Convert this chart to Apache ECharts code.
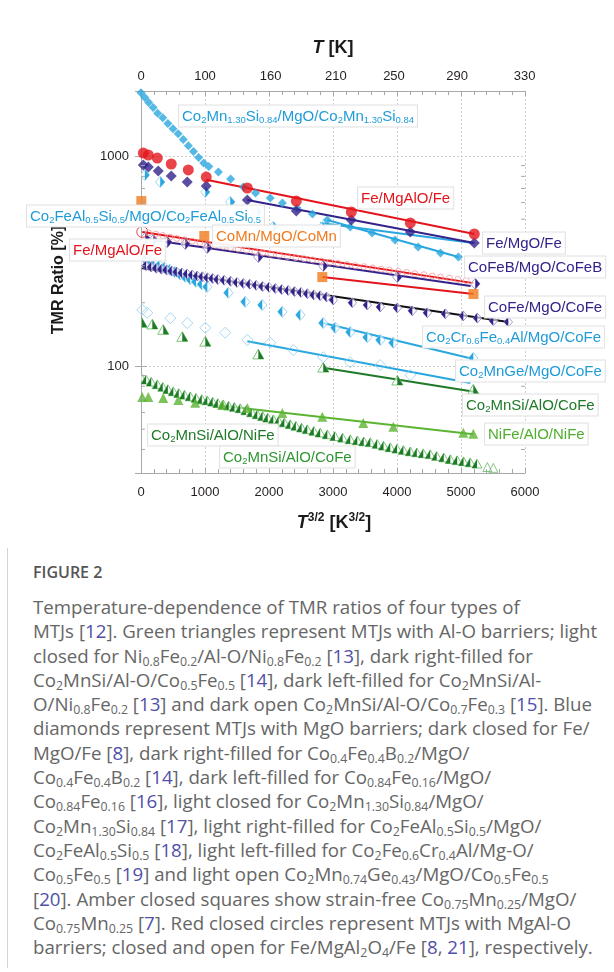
<!DOCTYPE html>
<html>
<head>
<meta charset="utf-8">
<script src="https://cdn.jsdelivr.net/npm/echarts@6/dist/echarts.min.js"></script>
<style>
  html, body { margin: 0; padding: 0; background: #fff; }
  body { width: 614px; height: 972px; position: relative; overflow: hidden; }
  #chart { position: absolute; left: 0; top: 0; width: 614px; height: 550px; }
  .edge { position: absolute; left: 7px; top: 548px; height: 420px; border-left: 1px solid #d4d4d4; }
  #caption { position: absolute; left: 33px; top: 560px; font-family: "Open Sans", "Noto Sans", sans-serif; color: #666; white-space: nowrap; }
  #caption .fig { font-size: 16px; font-weight: 600; line-height: 24px; color: #555; margin-bottom: 11px; }
  #caption .body { font-size: 18.7px; line-height: 24.3px; }
  #caption sub { font-size: 0.66em; vertical-align: -0.25em; line-height: 0; }
  #caption .ref { color: #5050a8; }
</style>
</head>
<body>
<div id="chart"></div>
<div class="edge"></div>
<div id="caption">
  <div class="fig">FIGURE 2</div>
  <div class="body">
Temperature-dependence of TMR ratios of four types of<br>
MTJs [<span class="ref">12</span>]. Green triangles represent MTJs with Al-O barriers; light<br>
closed for Ni<sub>0.8</sub>Fe<sub>0.2</sub>/Al-O/Ni<sub>0.8</sub>Fe<sub>0.2</sub> [<span class="ref">13</span>], dark right-filled for<br>
Co<sub>2</sub>MnSi/Al-O/Co<sub>0.5</sub>Fe<sub>0.5</sub> [<span class="ref">14</span>], dark left-filled for Co<sub>2</sub>MnSi/Al-<br>
O/Ni<sub>0.8</sub>Fe<sub>0.2</sub> [<span class="ref">13</span>] and dark open Co<sub>2</sub>MnSi/Al-O/Co<sub>0.7</sub>Fe<sub>0.3</sub> [<span class="ref">15</span>]. Blue<br>
diamonds represent MTJs with MgO barriers; dark closed for Fe/<br>
MgO/Fe [<span class="ref">8</span>], dark right-filled for Co<sub>0.4</sub>Fe<sub>0.4</sub>B<sub>0.2</sub>/MgO/<br>
Co<sub>0.4</sub>Fe<sub>0.4</sub>B<sub>0.2</sub> [<span class="ref">14</span>], dark left-filled for Co<sub>0.84</sub>Fe<sub>0.16</sub>/MgO/<br>
Co<sub>0.84</sub>Fe<sub>0.16</sub> [<span class="ref">16</span>], light closed for Co<sub>2</sub>Mn<sub>1.30</sub>Si<sub>0.84</sub>/MgO/<br>
Co<sub>2</sub>Mn<sub>1.30</sub>Si<sub>0.84</sub> [<span class="ref">17</span>], light right-filled for Co<sub>2</sub>FeAl<sub>0.5</sub>Si<sub>0.5</sub>/MgO/<br>
Co<sub>2</sub>FeAl<sub>0.5</sub>Si<sub>0.5</sub> [<span class="ref">18</span>], light left-filled for Co<sub>2</sub>Fe<sub>0.6</sub>Cr<sub>0.4</sub>Al/Mg-O/<br>
Co<sub>0.5</sub>Fe<sub>0.5</sub> [<span class="ref">19</span>] and light open Co<sub>2</sub>Mn<sub>0.74</sub>Ge<sub>0.43</sub>/MgO/Co<sub>0.5</sub>Fe<sub>0.5</sub><br>
[<span class="ref">20</span>]. Amber closed squares show strain-free Co<sub>0.75</sub>Mn<sub>0.25</sub>/MgO/<br>
Co<sub>0.75</sub>Mn<sub>0.25</sub> [<span class="ref">7</span>]. Red closed circles represent MTJs with MgAl-O<br>
barriers; closed and open for Fe/MgAl<sub>2</sub>O<sub>4</sub>/Fe [<span class="ref">8</span>, <span class="ref">21</span>], respectively.
  </div>
</div>

<script>
// x = T^(3/2) [K^(3/2)], y = TMR ratio [%]
const feMgAlOClosed = [[36,1033],[114,1011],[255,978],[473,916],[739,858],[1020,794],[1661,704],[2427,610],[3286,541],[4208,480],[5208,425]];
const feMgAlOClosedFit = [[1020,771],[5208,425]];
const feMgAlOOpen = [[20,435],[120,430],[230,424],[340,418],[450,411],[560,405],[680,399],[800,393],[920,387],[1040,381],[1160,376],[1280,371],[1400,366],[1520,361],[1650,356],[1780,351],[1900,346],[2030,341],[2160,337],[2290,332],[2420,328],[2550,324],[2680,320],[2820,316],[2950,312],[3080,308],[3220,304],[3350,300],[3480,297],[3620,293],[3750,289],[3880,286],[4020,282],[4150,279],[4280,275],[4420,272],[4550,268],[4680,265],[4820,262],[4950,258],[5080,255]];
const feMgAlOOpenFit = [[20,435],[5195,248]];

const feMgOFe = [[36,906],[114,887],[270,849],[473,803],[723,752],[1020,720],[1661,617],[2427,547],[3286,496],[4208,435],[5208,385]];
const feMgOFeFit = [[1661,617],[5208,385]];
const coFeB = [[67,407],[192,398],[411,389],[692,381],[1036,365],[1833,330],[2848,299],[4005,265],[5223,246]];
const coFeBFit = [[67,402],[5150,240]];
const coFe = [[0,305],[80,300],[160,296],[240,292],[320,289],[400,286],[480,283],[560,280],[640,277],[720,274],[800,271],[880,268],[960,266],[1040,263],[1120,261],[1200,258],[1300,256],[1400,253],[1500,250],[1600,247],[1700,245],[1800,242],[1900,239],[2000,237],[2100,234],[2200,231],[2300,229],[2400,226],[2500,224],[2600,221],[2700,218],[2800,216],[2900,213],[3005,206],[3302,200],[3536,195],[3739,191],[4005,189],[4239,183],[4473,179],[4755,177],[5036,173],[5255,169],[5505,164],[5739,162]];
const coFeFit = [[0,293],[5739,162]];

const co2MnSi = [[0,2000],[60,1900],[120,1800],[190,1700],[260,1600],[340,1520],[420,1430],[500,1350],[580,1275],[660,1200],[740,1120],[820,1050],[900,985],[980,925],[1060,890],[1210,840],[1400,777],[1600,711],[1790,667],[2020,631],[2210,597],[2440,565],[2680,529],[2910,496],[3270,459],[3610,430],[3970,398],[4330,369],[4680,345],[4960,330]];
const co2MnSiFit = [[2910,496],[4960,330]];
const co2FeAlSi = [[60,812],[300,752],[1005,674],[1395,604],[1817,541],[2067,459],[2833,459]];
const co2FeAlSiFit = [[2800,480],[5190,385]];
const co2FeCrAl = [[0,327],[70,320],[140,314],[210,308],[290,301],[370,294],[450,287],[530,280],[610,273],[690,266],[770,259],[860,252],[950,245],[1036,238],[1364,223],[1630,202],[1895,195],[2208,181],[2489,175],[2848,160],[3036,152],[3270,145],[3536,137],[3739,133],[3942,129],[5192,109]];
const co2FeCrAlFit = [[2848,160],[5192,108]];
const co2MnGe = [[20,185],[98,179],[458,169],[723,160],[1005,152],[1317,144],[1661,133],[2020,129],[2380,119],[2848,110],[3270,104],[3739,101],[4208,90.6]];
const co2MnGeFit = [[1661,131],[5145,83]];

const coMn = [[5,610],[989,416],[2833,265],[5195,220]];
const coMnFit = [[2833,265],[5195,220]];

const niFe = [[20,71.2],[114,71.2],[348,70.4],[583,68.9],[848,66.7],[1270,65.2],[1661,63.1],[2208,59.7],[2833,57.2],[3473,53.5],[3942,51.3],[5036,48.0],[5192,47.5]];
const niFeFit = [[848,66.7],[5192,47.3]];
const cmsCoFe = [[10,160],[177,157],[348,148],[645,137],[1005,130],[1833,113],[2848,97.8],[4005,84.9],[5192,76.9]];
const cmsCoFeFit = [[2848,98],[5255,75]];
const cmsNiFe = [[0,87.7],[80,85.5],[160,83.5],[255,81.2],[340,79],[420,77],[505,75.2],[590,73.8],[680,72.4],[770,71.1],[860,70],[950,69],[1036,68.1],[1120,67.1],[1200,66.1],[1286,65.2],[1370,64.2],[1460,63.3],[1551,62.4],[1640,61],[1730,59.7],[1817,58.4],[1900,57.3],[1980,56.3],[2067,55.3],[2150,54.4],[2240,53.4],[2333,52.4],[2420,51.5],[2510,50.5],[2598,49.6],[2700,48.7],[2800,47.8],[2911,46.9],[3030,46],[3150,45.2],[3270,44.4],[3380,43.9],[3480,43.4],[3583,43.0],[3690,42.2],[3790,41.4],[3895,40.7],[4000,40.1],[4100,39.5],[4208,38.9],[4310,38.5],[4410,38.1],[4520,37.7],[4620,37],[4730,36.4],[4833,35.7],[4940,35.3],[5040,34.9],[5145,34.5],[5250,34]];
const cmsCoFe73 = [[5411,33.0],[5505,32.7]];

// axis ticks
const xTicks = [0, 1000, 2000, 3000, 4000, 5000, 6000];
const topTicksK = [0, 100, 160, 210, 250, 290, 330];
const yMinorTicks = [40, 50, 60, 70, 80, 90, 200, 300, 400, 500, 600, 700, 800, 900];

const X_MIN = 0, X_MAX = 6000, Y_MIN = 30.9, Y_MAX = 2040;
const FONT = '"Liberation Sans", Arial, sans-serif';

const RED = '#e3151c';
const NAVY = '#33228a';
const LBLUE = '#2aa7df';
const ORANGE = '#f07a1e';
const DGREEN = '#1f7a28';
const LGREEN = '#5cb433';
const PINK = '#f29a9a';

const myChart = echarts.init(document.getElementById('chart'));

// half filled diamond / triangle markers
const halfMarker = (shape, side, fill, stroke, size) => (params, api) => {
  const p = api.coord([api.value(0), api.value(1)]);
  const h = size / 2;
  const x = p[0], y = p[1];
  let full, half;
  if (shape === 'diamond') {
    full = [[x, y - h], [x + h * 0.85, y], [x, y + h], [x - h * 0.85, y]];
    half = side === 'right'
      ? [[x, y - h], [x + h * 0.85, y], [x, y + h]]
      : [[x, y - h], [x - h * 0.85, y], [x, y + h]];
  } else {
    full = [[x, y - h], [x + h, y + h * 0.75], [x - h, y + h * 0.75]];
    half = side === 'right'
      ? [[x, y - h], [x + h, y + h * 0.75], [x, y + h * 0.75]]
      : [[x, y - h], [x, y + h * 0.75], [x - h, y + h * 0.75]];
  }
  return {
    type: 'group',
    children: [
      {type: 'polygon', shape: {points: full}, style: {fill: 'rgba(255,255,255,0.6)', stroke: stroke, lineWidth: 1}},
      {type: 'polygon', shape: {points: half}, style: {fill: fill}}
    ]
  };
};

const fitLine = (data, color, width) => ({
  type: 'line', data: data, symbol: 'none', z: 2, silent: true,
  lineStyle: {color: color, width: width || 2}
});

const scatter = (data, symbol, size, color, extra) => Object.assign({
  type: 'scatter', data: data, symbol: symbol, symbolSize: size, z: 3,
  itemStyle: {color: color}
}, extra || {});

const halfSeries = (data, shape, side, fill, stroke, size) => ({
  type: 'custom', data: data, z: 3, clip: true,
  renderItem: halfMarker(shape, side, fill, stroke, size)
});

// rich text label: parts alternate normal / subscript
const richText = (parts) => parts.map((s, i) => (i % 2 ? '{s|' + s + '}' : '{m|' + s + '}')).join('');
const label = (x, y, parts, color) => ({
  type: 'text', x: x, y: y, z: 50,
  style: {
    text: richText(parts),
    verticalAlign: 'middle',
    align: 'left',
    backgroundColor: 'rgba(255,255,255,0.92)',
    borderColor: '#e2e2e2',
    borderWidth: 1,
    padding: [2, 3, 1, 3],
    rich: {
      m: {fontSize: 15, fontFamily: FONT, fill: color, lineHeight: 18},
      s: {fontSize: 9.5, fontFamily: FONT, fill: color, verticalAlign: 'bottom', lineHeight: 12}
    }
  }
});

const tickStyle = {lineStyle: {color: '#a8a8a8', width: 1}};
const axisLine = {show: true, lineStyle: {color: '#a8a8a8', width: 1}};
const gridLine = {show: true, lineStyle: {color: '#cfcfcf', width: 1, type: [2, 2]}};

const option = {
  animation: false,
  grid: {left: 141, top: 91, width: 384, height: 382},
  xAxis: [
    {
      type: 'value', min: X_MIN, max: X_MAX, interval: 1000, position: 'bottom',
      axisLine: axisLine,
      axisTick: Object.assign({inside: true, length: 5}, tickStyle),
      minorTick: Object.assign({show: true, splitNumber: 5, length: 4}, tickStyle),
      axisLabel: {margin: 13, color: '#231f20', fontSize: 13, fontFamily: FONT,
        formatter: v => (xTicks.includes(v) ? String(v) : '')},
      splitLine: gridLine
    },
    {
      type: 'value', min: X_MIN, max: X_MAX, interval: 1000, position: 'top',
      axisLine: axisLine,
      axisTick: Object.assign({inside: true, length: 5}, tickStyle),
      minorTick: Object.assign({show: true, splitNumber: 5, length: 4}, tickStyle),
      axisLabel: {show: false},
      splitLine: {show: false}
    }
  ],
  yAxis: [
    {
      type: 'log', logBase: 10, min: Y_MIN, max: Y_MAX,
      axisLine: axisLine,
      axisTick: Object.assign({inside: true, length: 6}, tickStyle),
      axisLabel: {
        margin: 12, color: '#231f20', fontSize: 13, fontFamily: FONT,
        showMinLabel: false, showMaxLabel: false,
        formatter: v => {
          const l = Math.log10(v);
          return Math.abs(l - Math.round(l)) < 1e-6 ? String(Math.round(v)) : '';
        }
      },
      splitLine: gridLine
    },
    {
      type: 'log', logBase: 10, min: Y_MIN, max: Y_MAX, position: 'right',
      axisLine: axisLine,
      axisTick: Object.assign({inside: true, length: 6}, tickStyle),
      axisLabel: {show: false},
      splitLine: {show: false}
    }
  ],
  graphic: [
    {
      type: 'text', x: 333, y: 48, z: 50,
      style: {
        text: '{i|T}{b| [K]}', align: 'center', verticalAlign: 'middle',
        rich: {
          i: {fontSize: 18, fontWeight: 'bold', fontStyle: 'italic', fontFamily: FONT, fill: '#1a1a1a'},
          b: {fontSize: 18, fontWeight: 'bold', fontFamily: FONT, fill: '#1a1a1a'}
        }
      }
    },
    {
      type: 'text', x: 334, y: 523, z: 50,
      style: {
        text: '{i|T}{p|3/2}{b| [K}{p|3/2}{b|]}', align: 'center', verticalAlign: 'middle',
        rich: {
          i: {fontSize: 18, fontWeight: 'bold', fontStyle: 'italic', fontFamily: FONT, fill: '#1a1a1a', lineHeight: 22},
          b: {fontSize: 18, fontWeight: 'bold', fontFamily: FONT, fill: '#1a1a1a', lineHeight: 22},
          p: {fontSize: 12, fontWeight: 'bold', fontFamily: FONT, fill: '#1a1a1a', verticalAlign: 'top', lineHeight: 12}
        }
      }
    },
    {
      type: 'text', x: 59, y: 280, rotation: Math.PI / 2, z: 40,
      style: {
        text: 'TMR Ratio [%]', align: 'center', verticalAlign: 'middle',
        fontSize: 16, fontWeight: 'bold', fontFamily: FONT, fill: '#1a1a1a'
      }
    },
    label(179, 116, ['Co', '2', 'Mn', '1.30', 'Si', '0.84', '/MgO/Co', '2', 'Mn', '1.30', 'Si', '0.84'], '#1f9cd8'),
    label(27, 216, ['Co', '2', 'FeAl', '0.5', 'Si', '0.5', '/MgO/Co', '2', 'FeAl', '0.5', 'Si', '0.5'], '#1f9cd8'),
    label(358, 198, ['Fe/MgAlO/Fe'], RED),
    label(70, 250, ['Fe/MgAlO/Fe'], RED),
    label(213, 236, ['CoMn/MgO/CoMn'], ORANGE),
    label(483, 243, ['Fe/MgO/Fe'], NAVY),
    label(465, 267, ['CoFeB/MgO/CoFeB'], NAVY),
    label(485, 307, ['CoFe/MgO/CoFe'], NAVY),
    label(423, 337, ['Co', '2', 'Cr', '0.6', 'Fe', '0.4', 'Al/MgO/CoFe'], '#1f9cd8'),
    label(456, 371, ['Co', '2', 'MnGe/MgO/CoFe'], '#1f9cd8'),
    label(463, 405, ['Co', '2', 'MnSi/AlO/CoFe'], DGREEN),
    label(485, 434, ['NiFe/AlO/NiFe'], '#4fae2c'),
    label(148, 435, ['Co', '2', 'MnSi/AlO/NiFe'], DGREEN),
    label(220, 457, ['Co', '2', 'MnSi/AlO/CoFe'], '#2f9632')
  ],
  series: [
    // T [K] labels on the top axis, placed at T^(3/2)
    {
      type: 'custom', clip: false, z: 5, silent: true,
      data: topTicksK.map(t => [Math.pow(t, 1.5), Y_MAX, t]),
      renderItem: (params, api) => {
        const p = api.coord([api.value(0), api.value(1)]);
        return {
          type: 'text',
          style: {text: String(api.value(2)), x: p[0], y: p[1] - 15, align: 'center', verticalAlign: 'middle',
            fontSize: 13, fontFamily: FONT, fill: '#231f20'}
        };
      }
    },
    // minor log ticks on left and right frame
    {
      type: 'custom', clip: false, z: 5, silent: true,
      data: yMinorTicks.map(v => [X_MIN, v]),
      renderItem: (params, api) => {
        const pl = api.coord([X_MIN, api.value(1)]);
        const pr = api.coord([X_MAX, api.value(1)]);
        const st = {stroke: '#a8a8a8', lineWidth: 1};
        return {
          type: 'group',
          children: [
            {type: 'line', shape: {x1: pl[0], y1: pl[1], x2: pl[0] + 4, y2: pl[1]}, style: st},
            {type: 'line', shape: {x1: pr[0], y1: pr[1], x2: pr[0] - 4, y2: pr[1]}, style: st}
          ]
        };
      }
    },

    // MgAl-O
    scatter(feMgAlOOpen.map((d, i) => (i === 0 ? {value: d, symbolSize: 11, itemStyle: {borderColor: RED}} : d)),
      'circle', 6, PINK, {itemStyle: {color: 'rgba(0,0,0,0)', borderColor: PINK, borderWidth: 1}}),
    fitLine(feMgAlOOpenFit, RED),

    // Al-O
    halfSeries(cmsNiFe, 'triangle', 'left', DGREEN, '#7cc47a', 10),
    scatter(cmsCoFe73, 'triangle', 9, '#7cc47a', {itemStyle: {color: 'rgba(0,0,0,0)', borderColor: '#6bb86a', borderWidth: 1}}),
    fitLine(niFeFit, LGREEN),
    scatter(niFe, 'triangle', 10, LGREEN),
    fitLine(cmsCoFeFit, DGREEN),
    halfSeries(cmsCoFe, 'triangle', 'right', DGREEN, '#7cc47a', 11),

    // MgO, light
    fitLine(co2MnGeFit, LBLUE),
    scatter(co2MnGe, 'diamond', 11, '#9fd6f0', {itemStyle: {color: 'rgba(0,0,0,0)', borderColor: '#8fcdee', borderWidth: 1}}),
    fitLine(co2FeCrAlFit, LBLUE),
    halfSeries(co2FeCrAl, 'diamond', 'left', LBLUE, '#9fd6f0', 11),

    // MgO, CoFe
    halfSeries(coFe, 'diamond', 'left', NAVY, '#a49ed0', 10),
    fitLine(coFeFit, '#111', 2),

    // MgO, CoFeB and CoMn
    fitLine(coFeBFit, NAVY),
    halfSeries(coFeB, 'diamond', 'right', NAVY, '#a49ed0', 11),
    fitLine(coMnFit, RED),
    scatter(coMn, 'rect', 10, ORANGE),

    // MgO, light closed / right-filled
    fitLine(co2FeAlSiFit, LBLUE),
    halfSeries(co2FeAlSi, 'diamond', 'right', LBLUE, '#9fd6f0', 11),
    fitLine(co2MnSiFit, LBLUE),
    scatter(co2MnSi, 'diamond', 9, LBLUE),

    // Fe/MgO/Fe and Fe/MgAlO/Fe closed
    fitLine(feMgOFeFit, NAVY),
    scatter(feMgOFe, 'diamond', 11, NAVY),
    fitLine(feMgAlOClosedFit, RED),
    scatter(feMgAlOClosed, 'circle', 11, RED)
  ]
};

myChart.setOption(option);
</script>
</body>
</html>
